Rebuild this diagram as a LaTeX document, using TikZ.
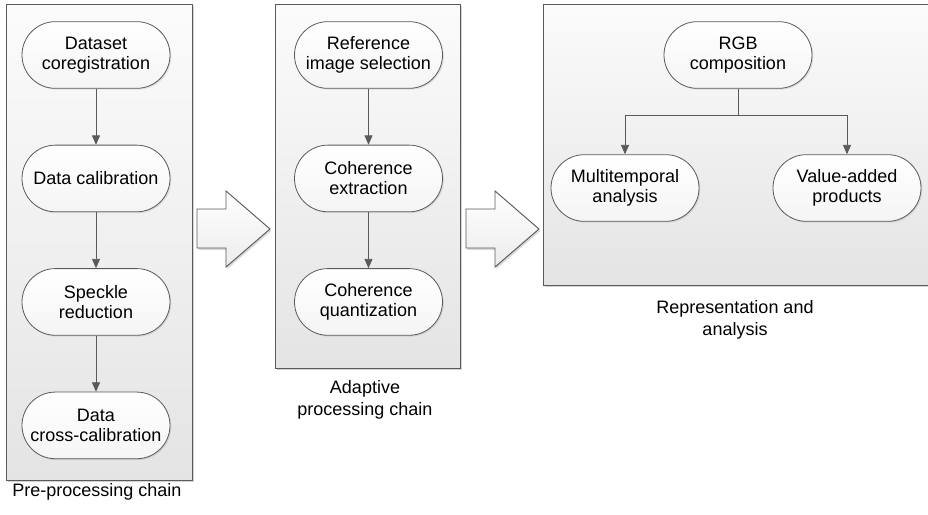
\documentclass[tikz,border=0pt]{standalone}
\usepackage{fontspec}
\setmainfont{Liberation Sans}
\usetikzlibrary{arrows.meta,positioning,shadows}
\definecolor{edgegray}{HTML}{5A5A5A}
\definecolor{panelgray}{HTML}{E4E4E4}

\begin{document}
\begin{tikzpicture}[
    x=0.75pt, y=-0.75pt,
    node distance=42pt and 40pt,
    panel/.style={draw=edgegray, line width=0.7pt, top color=gray!3, bottom color=panelgray,
        drop shadow={shadow xshift=1.5pt, shadow yshift=-1.5pt, opacity=0.35}},
    stage/.style={draw=edgegray, line width=0.6pt, rounded corners=25pt, minimum width=111pt,
        minimum height=50pt, align=center, inner sep=2pt, font=\fontsize{13.5}{15}\selectfont,
        top color=white, bottom color=gray!8,
        drop shadow={shadow xshift=1pt, shadow yshift=-1pt, opacity=0.2}},
    flow/.style={-{Triangle[length=7pt, width=6pt]}, draw=edgegray, line width=0.6pt},
    blockarrow/.style={draw=edgegray, line width=0.7pt, top color=white, bottom color=gray!15,
        drop shadow={shadow xshift=1pt, shadow yshift=-1.5pt, opacity=0.3}},
    caption/.style={align=center, font=\fontsize{13.5}{17}\selectfont}
]
\useasboundingbox (0,0) rectangle (928,514);

% panels
\node[panel, minimum width=139.5pt, minimum height=357pt] (pre) at (99,242) {};
\node[panel, minimum width=138.75pt, minimum height=273pt] (adapt) at (367.5,186) {};
\node[panel, minimum width=300pt, minimum height=210.75pt] (repr) at (743,144.5) {};

% pre-processing chain
\node[stage] (coreg) at (96,55) {Dataset\\coregistration};
\node[stage, below=of coreg] (calib) {Data calibration};
\node[stage, below=of calib] (speckle) {Speckle\\reduction};
\node[stage, below=of speckle] (xcalib) {Data\\cross-calibration};

\draw[flow] (coreg) -- (calib);
\draw[flow] (calib) -- (speckle);
\draw[flow] (speckle) -- (xcalib);

% adaptive processing chain
\node[stage] (refimg) at (368.5,55) {Reference\\image selection};
\node[stage, below=of refimg] (cohext) {Coherence\\extraction};
\node[stage, below=of cohext] (cohquant) {Coherence\\quantization};

\draw[flow] (refimg) -- (cohext);
\draw[flow] (cohext) -- (cohquant);

% representation and analysis
\node[stage] (rgb) at (738,55) {RGB\\composition};
\node[stage] (multi) at (625,188) {Multitemporal\\analysis};
\node[stage] (value) at (847,188) {Value-added\\products};

\draw[flow] (rgb.south) -- ++(0,27) -| (multi.north);
\draw[flow] (rgb.south) -- ++(0,27) -| (value.north);

% block arrows between the chains
\draw[blockarrow] (197,209) -- (226,209) -- (226,191) -- (270,229) -- (226,267) -- (226,248) -- (197,248) -- cycle;
\draw[blockarrow] (466,209) -- (495,209) -- (495,191) -- (539,229) -- (495,267) -- (495,248) -- (466,248) -- cycle;

% captions
\node[caption] (precap) at (97,492) {Pre-processing chain};
\node[caption] (adaptcap) at (365,400) {Adaptive\\processing chain};
\node[caption] (reprcap) at (735,320) {Representation and\\analysis};
\end{tikzpicture}
\end{document}
